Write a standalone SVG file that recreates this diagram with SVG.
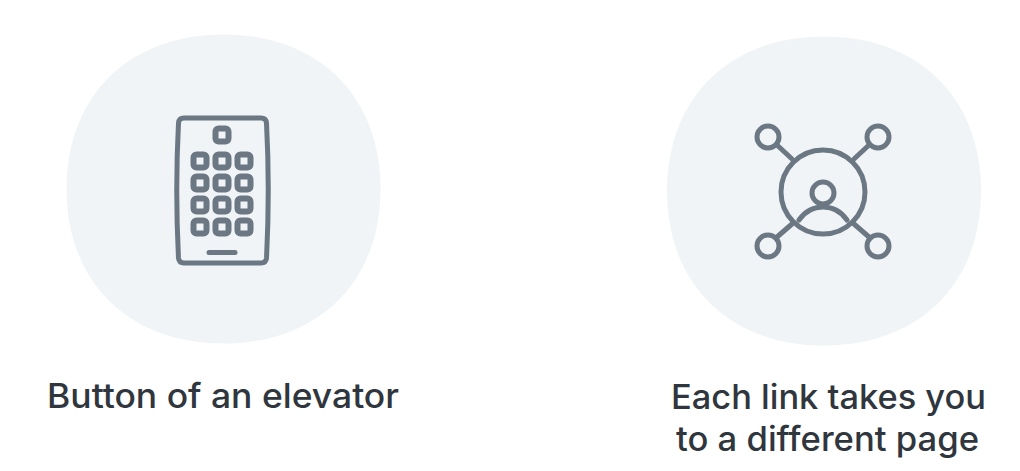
<svg xmlns="http://www.w3.org/2000/svg" width="1020" height="471" viewBox="0 0 1020 471">
<style>
.bg{fill:#f1f4f7}
.i{fill:none;stroke:#6b7782;stroke-width:5;stroke-linecap:round;stroke-linejoin:round}
.k{fill:none;stroke:#6b7782;stroke-width:6}
text{font-family:"Inter","Noto Sans",sans-serif;font-size:34px;font-weight:500;fill:#2f363d}
</style>
<defs>
<rect id="key" x="-6.500" y="-6.500" width="13" height="13" rx="3" class="k"/>
<path id="blob" d="M0-154.500C94-154.500 157-94 157 0C157 94 94 154.500 0 154.500C-94 154.500 -157 94 -157 0C-157 -94 -94 -154.500 0 -154.500Z" class="bg"/>
</defs>
<rect width="1020" height="471" fill="#ffffff"/>
<g id="elevator">
<use href="#blob" x="223.500" y="189"/>
<path class="i" d="M184 118H261Q266 118 266.500 123Q270 190 266.500 258Q266 263 261 263H184Q179 263 178.500 258Q175 190 178.500 123Q179 118 184 118Z"/>
<use href="#key" x="222" y="135"/>
<use href="#key" x="200" y="161"/><use href="#key" x="222" y="161"/><use href="#key" x="244" y="161"/>
<use href="#key" x="200" y="183"/><use href="#key" x="222" y="183"/><use href="#key" x="244" y="183"/>
<use href="#key" x="200" y="205"/><use href="#key" x="222" y="205"/><use href="#key" x="244" y="205"/>
<use href="#key" x="200" y="227"/><use href="#key" x="222" y="227"/><use href="#key" x="244" y="227"/>
<path class="i" d="M209 252.500H235"/>
<text x="47" y="408" textLength="352" lengthAdjust="spacingAndGlyphs">Button of an elevator</text>
</g>
<g id="network">
<use href="#blob" x="824" y="191"/>
<circle class="i" cx="823" cy="192" r="42"/>
<circle class="i" cx="823" cy="193" r="11"/>
<path class="i" d="M799 220Q808 207 823 207Q838 207 847 220"/>
<circle class="i" cx="768" cy="137" r="11"/>
<circle class="i" cx="878" cy="137" r="11"/>
<circle class="i" cx="768" cy="246" r="11"/>
<circle class="i" cx="878" cy="246" r="11"/>
<path class="i" d="M777 145L792 159M869 145L854 159M777 237L792 224M869 237L854 224"/>
<text x="671" y="409" textLength="315" lengthAdjust="spacingAndGlyphs">Each link takes you</text>
<text x="676" y="451" textLength="303" lengthAdjust="spacingAndGlyphs">to a different page</text>
</g>
</svg>
